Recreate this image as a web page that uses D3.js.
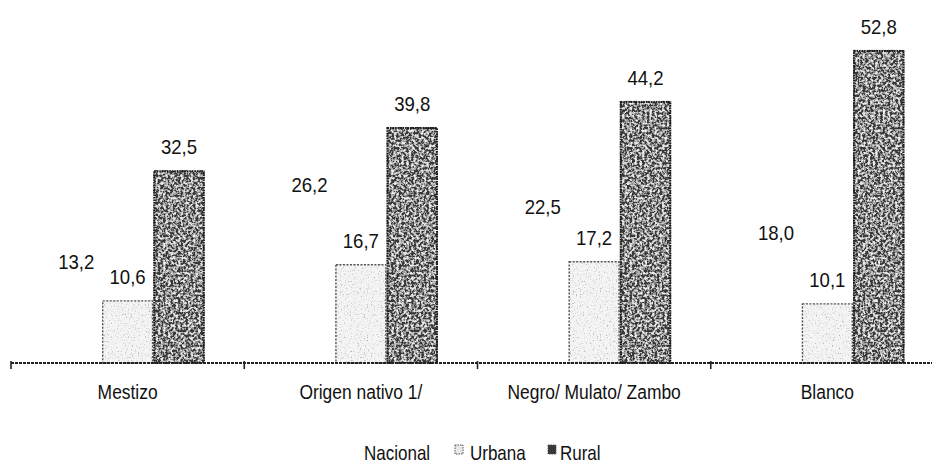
<!DOCTYPE html>
<html>
<head>
<meta charset="utf-8">
<script src="https://cdn.jsdelivr.net/npm/d3@7"></script>
<style>
  html, body { margin: 0; padding: 0; background: #fff; }
  text { font-family: "Liberation Sans", Arial, sans-serif; fill: #111; }
</style>
</head>
<body>
<div id="chart"></div>
<script>
// data
const categories = ["Mestizo", "Origen nativo 1/", "Negro/ Mulato/ Zambo", "Blanco"];
const seriesNames = ["Nacional", "Urbana", "Rural"];
const nacional = [13.2, 26.2, 22.5, 18.0];
const urbana = [10.6, 16.7, 17.2, 10.1];
const rural = [32.5, 39.8, 44.2, 52.8];

const width = 932, height = 466;
const baseY = 363;

const svg = d3.select("#chart").append("svg")
    .attr("width", width)
    .attr("height", height);

const defs = svg.append("defs");

// grainy scan texture for the rural bars
const fRural = defs.append("filter").attr("id", "grain-dark")
    .attr("x", 0).attr("y", 0).attr("width", 1).attr("height", 1);
fRural.append("feTurbulence")
    .attr("type", "fractalNoise")
    .attr("baseFrequency", 0.4)
    .attr("numOctaves", 3)
    .attr("seed", 4)
    .attr("result", "noise");
fRural.append("feColorMatrix")
    .attr("in", "noise")
    .attr("type", "matrix")
    .attr("values", "0 0 0 0 0.85  0 0 0 0 0.85  0 0 0 0 0.85  0 0 0 3.4 -1.4")
    .attr("result", "specks");
fRural.append("feComposite")
    .attr("in", "specks").attr("in2", "SourceGraphic")
    .attr("operator", "atop");

const fUrb = defs.append("filter").attr("id", "grain-light")
    .attr("x", 0).attr("y", 0).attr("width", 1).attr("height", 1);
fUrb.append("feTurbulence")
    .attr("type", "fractalNoise")
    .attr("baseFrequency", 0.7)
    .attr("numOctaves", 2)
    .attr("seed", 9)
    .attr("result", "noise");
fUrb.append("feColorMatrix")
    .attr("in", "noise")
    .attr("type", "matrix")
    .attr("values", "0 0 0 0 0.45  0 0 0 0 0.45  0 0 0 0 0.45  0 0 0 4 -2.3")
    .attr("result", "specks");
fUrb.append("feComposite")
    .attr("in", "specks").attr("in2", "SourceGraphic")
    .attr("operator", "atop");

const x0 = d3.scaleBand()
    .domain(categories)
    .range([11, 944])
    .paddingInner(0)
    .paddingOuter(0);

const x1 = d3.scaleBand()
    .domain(seriesNames)
    .range([0, x0.bandwidth()])
    .paddingInner(0)
    .paddingOuter(0.77);

const y = d3.scaleLinear()
    .domain([0, 60])
    .range([baseY, baseY - 60 * 5.93]);

const rows = categories.map((c, i) => ({
    cat: c,
    vals: [
        { s: "Nacional", v: nacional[i] },
        { s: "Urbana", v: urbana[i] },
        { s: "Rural", v: rural[i] }
    ]
}));

const groups = svg.append("g").selectAll("g")
    .data(rows)
    .join("g")
    .attr("transform", d => `translate(${x0(d.cat)},0)`);

// urbana bars
groups.append("rect")
    .attr("x", d => x1("Urbana"))
    .attr("y", d => y(d.vals[1].v))
    .attr("width", x1.bandwidth())
    .attr("height", d => baseY - y(d.vals[1].v))
    .attr("fill", "#f4f4f4")
    .attr("filter", "url(#grain-light)");
groups.append("rect")
    .attr("x", d => x1("Urbana") + 0.75)
    .attr("y", d => y(d.vals[1].v) + 0.75)
    .attr("width", x1.bandwidth() - 1.5)
    .attr("height", d => baseY - y(d.vals[1].v) - 0.75)
    .attr("fill", "none")
    .attr("stroke", "#555")
    .attr("stroke-width", 1.4)
    .attr("stroke-dasharray", "2,1.5");

// rural bars
groups.append("rect")
    .attr("x", d => x1("Rural"))
    .attr("y", d => y(d.vals[2].v))
    .attr("width", x1.bandwidth())
    .attr("height", d => baseY - y(d.vals[2].v))
    .attr("fill", "#383838")
    .attr("filter", "url(#grain-dark)");
groups.append("rect")
    .attr("x", d => x1("Rural") + 1)
    .attr("y", d => y(d.vals[2].v) + 1)
    .attr("width", x1.bandwidth() - 2)
    .attr("height", d => baseY - y(d.vals[2].v) - 1)
    .attr("fill", "none")
    .attr("stroke", "#1a1a1a")
    .attr("stroke-width", 2)
    .attr("stroke-dasharray", "1.5,1");

// value labels
groups.selectAll("text.val")
    .data(d => d.vals)
    .join("text")
    .attr("class", "val")
    .attr("text-anchor", "middle")
    .attr("transform", d => `translate(${x1(d.s) + x1.bandwidth() / 2},${y(d.v) - 16}) scale(0.93,1)`)
    .attr("font-size", 20)
    .text(d => d3.format(".1f")(d.v).replace(".", ","));

// axis line with ticks at band edges
const axis = svg.append("g");
axis.append("line")
    .attr("x1", 11).attr("x2", width)
    .attr("y1", baseY).attr("y2", baseY)
    .attr("stroke", "#222")
    .attr("stroke-width", 2)
    .attr("stroke-dasharray", "3,1");
axis.selectAll("line.tick")
    .data(categories)
    .join("line")
    .attr("class", "tick")
    .attr("x1", d => x0(d)).attr("x2", d => x0(d))
    .attr("y1", baseY - 2).attr("y2", baseY + 6)
    .attr("stroke", "#222")
    .attr("stroke-width", 1.6);

axis.selectAll("text.cat")
    .data(categories)
    .join("text")
    .attr("class", "cat")
    .attr("text-anchor", "middle")
    .attr("font-size", 21)
    .attr("transform", d => `translate(${x0(d) + x0.bandwidth() / 2},${399}) scale(0.83,1)`)
    .text(d => d);

// legend
const legendItems = [
    { name: "Nacional", x: 352, tx: 364, fill: "none" },
    { name: "Urbana", x: 455, tx: 470, fill: "#e8e8e8" },
    { name: "Rural", x: 548, tx: 560, fill: "#383838" }
];
const lg = svg.append("g");
lg.selectAll("rect")
    .data(legendItems)
    .join("rect")
    .attr("x", d => d.x)
    .attr("y", 445)
    .attr("width", 8)
    .attr("height", 9)
    .attr("fill", d => d.fill)
    .attr("stroke", d => d.fill === "none" ? "none" : "#555")
    .attr("stroke-dasharray", "1.5,1");
lg.selectAll("text")
    .data(legendItems)
    .join("text")
    .attr("font-size", 20)
    .attr("transform", d => `translate(${d.tx},${460}) scale(0.85,1)`)
    .text(d => d.name);
</script>
</body>
</html>
